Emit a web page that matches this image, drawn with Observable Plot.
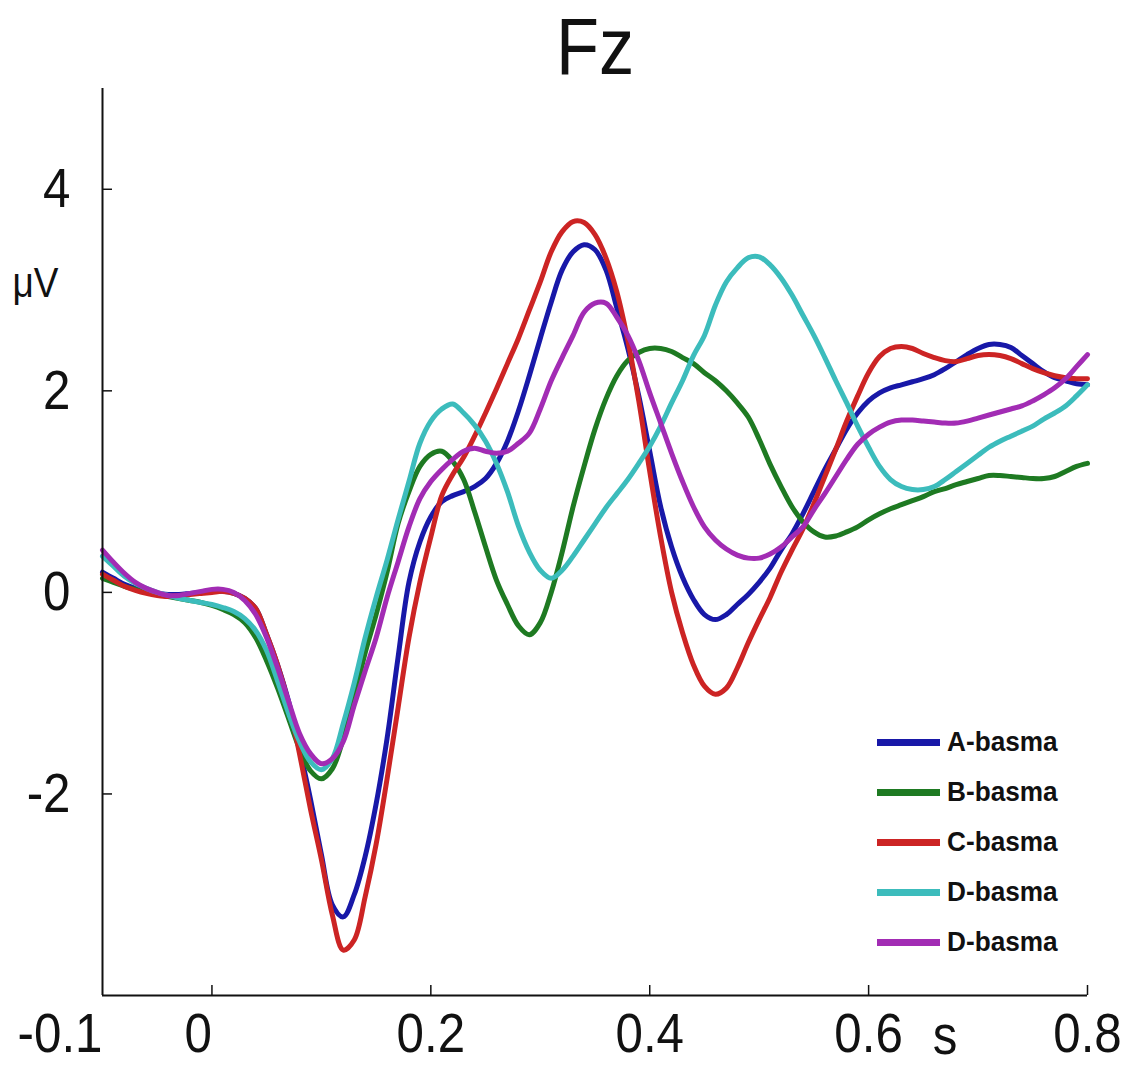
<!DOCTYPE html>
<html><head><meta charset="utf-8">
<script src="https://cdn.jsdelivr.net/npm/d3@7"></script>
<script src="https://cdn.jsdelivr.net/npm/@observablehq/plot@0.6"></script>
<style>
body{margin:0;background:#fff;}
#wrap{position:relative;width:1133px;height:1077px;}
#legend{position:absolute;left:877px;top:717px;font-family:"Liberation Sans",Arial,sans-serif;font-weight:bold;font-size:27px;color:#111;}
.row{display:flex;align-items:center;height:50px;}
.sw{width:63px;height:7px;margin-right:7px;}
.lab{display:inline-block;transform:scaleX(0.97);transform-origin:left center;white-space:nowrap;}
</style></head>
<body><div id="wrap"></div>
<script>
const title = "Fz";
const yLabel = "μV";
const xLabel = "s";
const xDomain = [-0.1, 0.8];
const yDomain = [-4, 5];
const xTicks = [0, 0.2, 0.4, 0.6, 0.8];
const xTickLabelsCentered = [0.2, 0.4, 0.6, 0.8];
const xTickLabelsEnd = [-0.1, 0];
const yTicks = [-2, 0, 2, 4];
const seriesNames = ["A-basma", "B-basma", "C-basma", "D-basma", "D-basma"];
const seriesKeys = ["A", "B", "C", "D", "D2"];
const seriesColors = ["#1818a8", "#1e7a22", "#cc2424", "#3cbcbc", "#a22cb4"];

const times = [-0.1,-0.09,-0.08,-0.07,-0.06,-0.05,-0.04,-0.03,-0.02,-0.01,
0,0.01,0.02,0.03,0.04,0.05,0.06,0.07,0.08,0.09,
0.1,0.11,0.12,0.13,0.14,0.15,0.16,0.17,0.18,0.19,
0.2,0.21,0.22,0.23,0.24,0.25,0.26,0.27,0.28,0.29,
0.3,0.31,0.32,0.33,0.34,0.35,0.36,0.37,0.38,0.39,
0.4,0.41,0.42,0.43,0.44,0.45,0.46,0.47,0.48,0.49,
0.5,0.51,0.52,0.53,0.54,0.55,0.56,0.57,0.58,0.59,
0.6,0.61,0.62,0.63,0.64,0.65,0.66,0.67,0.68,0.69,
0.7,0.71,0.72,0.73,0.74,0.75,0.76,0.77,0.78,0.79,0.8];

const seriesA = [0.20,0.14,0.08,0.04,0.01,-0.01,-0.02,-0.02,-0.01,0.00,
0.01,0.01,-0.01,-0.06,-0.16,-0.42,-0.72,-1.08,-1.55,-2.05,
-2.60,-3.10,-3.22,-3.00,-2.62,-2.10,-1.45,-0.65,0.10,0.50,
0.75,0.90,0.96,1.00,1.05,1.13,1.28,1.50,1.80,2.15,
2.52,2.88,3.20,3.38,3.45,3.40,3.20,2.82,2.42,1.95,
1.40,0.85,0.45,0.15,-0.07,-0.22,-0.27,-0.22,-0.12,-0.02,
0.10,0.24,0.42,0.58,0.78,1.00,1.22,1.42,1.62,1.78,
1.90,1.98,2.03,2.06,2.09,2.12,2.16,2.22,2.29,2.36,
2.42,2.46,2.46,2.43,2.35,2.27,2.19,2.13,2.10,2.07,2.06];

const seriesB = [0.14,0.10,0.06,0.03,0.00,-0.02,-0.04,-0.06,-0.08,-0.10,
-0.13,-0.17,-0.22,-0.30,-0.45,-0.68,-0.95,-1.25,-1.55,-1.77,
-1.85,-1.75,-1.45,-1.05,-0.60,-0.22,0.20,0.68,1.00,1.25,
1.37,1.40,1.30,1.12,0.80,0.45,0.12,-0.12,-0.33,-0.42,
-0.30,0.00,0.40,0.85,1.25,1.62,1.92,2.15,2.30,2.38,
2.42,2.42,2.39,2.33,2.27,2.18,2.10,2.00,1.88,1.74,
1.52,1.27,1.05,0.85,0.70,0.60,0.55,0.56,0.60,0.65,
0.72,0.78,0.83,0.87,0.91,0.95,1.00,1.03,1.07,1.10,
1.13,1.16,1.16,1.15,1.14,1.13,1.13,1.15,1.20,1.25,1.28];

const seriesC = [0.18,0.12,0.06,0.02,-0.01,-0.03,-0.04,-0.03,-0.02,-0.01,
0.00,0.01,-0.01,-0.06,-0.16,-0.42,-0.72,-1.10,-1.60,-2.15,
-2.65,-3.20,-3.55,-3.45,-3.02,-2.50,-1.85,-1.15,-0.45,0.10,
0.55,0.96,1.17,1.34,1.55,1.78,2.02,2.27,2.52,2.80,
3.08,3.38,3.58,3.68,3.67,3.55,3.32,2.98,2.50,1.90,
1.20,0.55,0.00,-0.40,-0.72,-0.93,-1.01,-0.95,-0.75,-0.50,
-0.27,-0.05,0.20,0.42,0.63,0.88,1.15,1.42,1.70,1.95,
2.18,2.34,2.42,2.44,2.42,2.37,2.33,2.30,2.29,2.32,
2.35,2.36,2.35,2.32,2.27,2.22,2.18,2.15,2.13,2.12,2.12];

const seriesD = [0.36,0.26,0.16,0.09,0.04,0.00,-0.03,-0.06,-0.08,-0.10,
-0.12,-0.15,-0.19,-0.26,-0.38,-0.58,-0.88,-1.20,-1.48,-1.68,
-1.76,-1.65,-1.30,-0.90,-0.45,-0.05,0.32,0.72,1.10,1.48,
1.70,1.82,1.87,1.78,1.66,1.50,1.28,1.00,0.66,0.40,
0.22,0.14,0.22,0.36,0.52,0.68,0.84,0.98,1.12,1.28,
1.45,1.65,1.88,2.10,2.35,2.55,2.85,3.08,3.22,3.32,
3.33,3.25,3.12,2.95,2.75,2.55,2.33,2.10,1.88,1.65,
1.44,1.25,1.12,1.05,1.02,1.02,1.05,1.12,1.20,1.28,
1.36,1.44,1.50,1.55,1.60,1.65,1.72,1.78,1.85,1.95,2.06];

const seriesD2 = [0.42,0.30,0.19,0.10,0.04,0.00,-0.03,-0.03,-0.01,0.01,
0.03,0.03,0.00,-0.08,-0.22,-0.45,-0.75,-1.08,-1.40,-1.60,
-1.70,-1.65,-1.48,-1.12,-0.78,-0.45,-0.05,0.30,0.65,0.93,
1.10,1.22,1.32,1.40,1.43,1.40,1.38,1.40,1.48,1.58,
1.82,2.10,2.33,2.55,2.78,2.87,2.87,2.73,2.55,2.30,
1.98,1.68,1.38,1.10,0.85,0.65,0.52,0.43,0.37,0.34,
0.34,0.38,0.45,0.55,0.65,0.82,0.98,1.15,1.32,1.47,
1.57,1.64,1.69,1.71,1.71,1.70,1.69,1.68,1.68,1.70,
1.73,1.76,1.79,1.82,1.85,1.90,1.96,2.03,2.12,2.24,2.36];

const seriesValues = [seriesA, seriesB, seriesC, seriesD, seriesD2];

const rows = [];
seriesKeys.forEach((k, s) => {
  seriesValues[s].forEach((v, i) => rows.push({t: times[i], v, key: k}));
});

const fmt = d => String(d);
const font = "'Liberation Sans', Arial, sans-serif";
const plot = Plot.plot({
  width: 1133,
  height: 1077,
  marginLeft: 102,
  marginRight: 46,
  marginTop: 88,
  marginBottom: 82,
  style: {fontFamily: font, background: "white", color: "#111"},
  x: {domain: xDomain},
  y: {domain: yDomain},
  color: {domain: seriesKeys, range: seriesColors},
  marks: [
    Plot.lineY(rows, {x: "t", y: "v", z: "key", stroke: "key", strokeWidth: 5, curve: "catmull-rom"}),
    Plot.ruleX([xDomain[0]], {stroke: "#111", strokeWidth: 2}),
    Plot.ruleY([yDomain[0]], {stroke: "#111", strokeWidth: 2}),
    Plot.axisX(xTicks, {tickSize: -10, strokeWidth: 1.5, tickFormat: () => "", label: null}),
    Plot.axisY(yTicks, {tickSize: -10, strokeWidth: 1.5, tickFormat: () => "", label: null}),
    Plot.axisX(xTickLabelsCentered, {tickSize: 0, tickPadding: 17, fontSize: 56, tickFormat: fmt, label: null}),
    Plot.axisX(xTickLabelsEnd, {tickSize: 0, tickPadding: 17, fontSize: 56, textAnchor: "end", tickFormat: fmt, label: null}),
    Plot.axisY(yTicks, {tickSize: 0, tickPadding: 32, fontSize: 56, tickFormat: fmt, label: null}),
    Plot.text([title], {frameAnchor: "top", dy: -15, lineAnchor: "bottom", fontSize: 80}),
    Plot.text([yLabel], {frameAnchor: "left", dx: -90, dy: -258, textAnchor: "start", fontSize: 42}),
    Plot.text([xLabel], {frameAnchor: "bottom", dx: 350, dy: 58, fontSize: 56})
  ]
});

d3.select(plot).selectAll("text").each(function() {
  const t = this.getAttribute("transform") || "";
  this.setAttribute("transform", (t + " scale(0.88,1)").trim());
});

const wrap = document.getElementById("wrap");
wrap.appendChild(plot);

const legend = document.createElement("div");
legend.id = "legend";
seriesNames.forEach((name, i) => {
  const row = document.createElement("div");
  row.className = "row";
  const sw = document.createElement("div");
  sw.className = "sw";
  sw.style.background = seriesColors[i];
  const lab = document.createElement("span");
  lab.className = "lab";
  lab.textContent = name;
  row.appendChild(sw);
  row.appendChild(lab);
  legend.appendChild(row);
});
wrap.appendChild(legend);
</script>
</body></html>
